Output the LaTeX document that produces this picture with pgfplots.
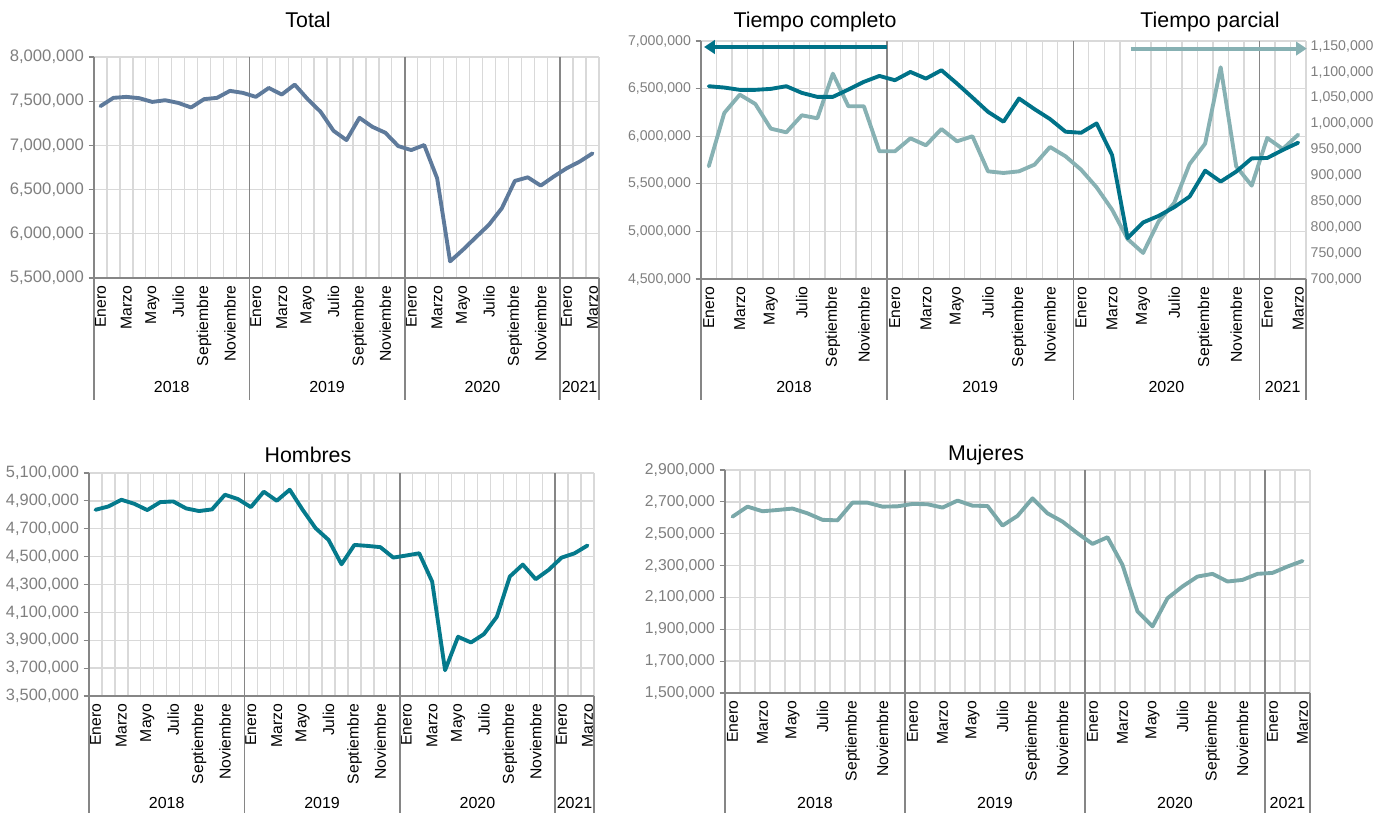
\documentclass[border=0pt]{standalone}
\usepackage{fontspec}
\setmainfont{Liberation Sans}
\usepackage{pgfplots}
\usepackage{pgfplotstable}
\pgfplotsset{compat=1.18}
\usetikzlibrary{arrows.meta}

\definecolor{cTotal}{HTML}{5E7A9B}
\definecolor{cComp}{HTML}{007288}
\definecolor{cParc}{HTML}{87B1B3}
\definecolor{cHom}{HTML}{057A8C}
\definecolor{cMuj}{HTML}{7AA8A9}
\definecolor{gridgray}{HTML}{D9D9D9}
\definecolor{axgray}{HTML}{868686}
\definecolor{labgray}{HTML}{7F7F7F}

% k = mes (0 = enero 2018 ... 38 = marzo 2021)
\pgfplotstableread{
k total hombres mujeres completo parcial
0 7444000 4836000 2607000 6525000 917800
1 7538000 4860000 2670000 6511000 1020900
2 7549000 4908000 2641000 6487000 1056300
3 7534000 4879000 2649000 6487000 1038300
4 7492000 4834000 2658000 6497000 990600
5 7511000 4891000 2628000 6525000 983500
6 7481000 4896000 2587000 6455000 1016400
7 7429000 4846000 2584000 6413000 1010600
8 7523000 4827000 2695000 6413000 1096900
9 7538000 4839000 2695000 6490000 1033800
10 7617000 4944000 2670000 6571000 1033800
11 7594000 4913000 2672000 6633000 946800
12 7549000 4855000 2687000 6588000 946800
13 7650000 4966000 2685000 6675000 971900
14 7575000 4901000 2664000 6605000 958400
15 7688000 4980000 2708000 6693000 989900
16 7523000 4836000 2676000 6553000 966100
17 7380000 4704000 2674000 6406000 975800
18 7165000 4620000 2551000 6256000 908100
19 7060000 4445000 2612000 6152000 904900
20 7312000 4584000 2722000 6396000 908100
21 7210000 4577000 2628000 6284000 921000
22 7143000 4568000 2576000 6180000 955200
23 6992000 4493000 2503000 6047000 937100
24 6947000 4508000 2436000 6036000 911300
25 7004000 4524000 2478000 6134000 877200
26 6628000 4321000 2304000 5802000 834000
27 5688000 3685000 2012000 4929000 777300
28 5820000 3925000 1918000 5094000 750300
29 5962000 3884000 2095000 5163000 811500
30 6102000 3944000 2169000 5254000 846900
31 6290000 4069000 2231000 5366000 922300
32 6598000 4357000 2248000 5638000 961600
33 6639000 4443000 2200000 5523000 1109200
34 6545000 4338000 2210000 5628000 917800
35 6647000 4405000 2248000 5767000 880400
36 6741000 4493000 2254000 5771000 972600
37 6816000 4524000 2294000 5855000 951300
38 6910000 4580000 2329000 5932000 979000
}\datos

\pgfplotsset{
  numeros/.style={
    scaled y ticks=false,
    yticklabel style={text=labgray,
      /pgf/number format/fixed,
      /pgf/number format/precision=0,
      /pgf/number format/1000 sep={,},
      /pgf/number format/assume math mode=true},
  },
  mes/.style={
    scale only axis, clip=false, anchor=north west,
    xmin=-0.5, xmax=38.5,
    xtick={0,2,...,38},
    xticklabels={Enero,Marzo,Mayo,Julio,Septiembre,Noviembre,
                 Enero,Marzo,Mayo,Julio,Septiembre,Noviembre,
                 Enero,Marzo,Mayo,Julio,Septiembre,Noviembre,
                 Enero,Marzo},
    x tick label style={rotate=90, anchor=east, inner sep=1.5pt,
                        font=\fontsize{11.8}{12}\selectfont},
    major x tick style={draw=none},
    minor xtick={0.5,1.5,...,38.5},
    minor x tick style={draw=none},
    xminorgrids=true, ymajorgrids=true,
    minor x grid style={gridgray, line width=1pt},
    major y grid style={gridgray, line width=1pt},
    axis x line*=bottom, axis y line*=left,
    axis line style={axgray, line width=1pt},
    tick align=outside, major tick length=4pt,
    major y tick style={axgray, line width=0.8pt},
    numeros,
  },
  derecho/.style={
    scale only axis, anchor=north west,
    xmin=-0.5, xmax=38.5,
    axis x line=none, axis y line*=right,
    axis line style={draw=none},
    major tick length=0pt,
    numeros,
  },
  serie/.style={line width=2.9pt, line join=round, line cap=round, mark=none},
}

% separadores de años y etiquetas (#1 = bajada, #2 = posicion de los años)
\newcommand{\anios}[2]{%
  \pgfplotsinvokeforeach{0.307692,0.615385,0.923077}{%
    \draw[axgray, line width=1.2pt] (rel axis cs:##1,1) -- ([yshift=-#1]rel axis cs:##1,0);}
  \pgfplotsinvokeforeach{0,1}{%
    \draw[axgray, line width=1pt] (rel axis cs:##1,0) -- ([yshift=-#1]rel axis cs:##1,0);}
  \node[font=\fontsize{12}{14}\selectfont] at ([yshift=-#2]rel axis cs:0.153846,0) {2018};
  \node[font=\fontsize{12}{14}\selectfont] at ([yshift=-#2]rel axis cs:0.461538,0) {2019};
  \node[font=\fontsize{12}{14}\selectfont] at ([yshift=-#2]rel axis cs:0.769231,0) {2020};
  \node[font=\fontsize{12}{14}\selectfont] at ([yshift=-#2]rel axis cs:0.961538,0) {2021};
}

\begin{document}
\begin{tikzpicture}
\useasboundingbox (0,0) rectangle (1042.5pt,-609.75pt);

\tikzset{titulo/.style={font=\fontsize{16}{18}\selectfont}}
\node[titulo] at (231pt,-15pt) {Total};
\node[titulo] at (611.25pt,-16.5pt) {Tiempo completo};
\node[titulo] at (907.5pt,-16.5pt) {Tiempo parcial};
\node[titulo] at (231pt,-341.25pt) {Hombres};
\node[titulo] at (739.5pt,-341.25pt) {Mujeres};

% Total
\begin{axis}[mes, at={(70.5pt,-42.75pt)}, width=378.75pt, height=165.75pt,
    ymin=5500000, ymax=8000000,
    ytick={5500000,6000000,6500000,7000000,7500000,8000000},
    yticklabel style={font=\fontsize{12.5}{13}\selectfont}]
  \anios{91.5pt}{81.75pt}
  \addplot[serie, cTotal] table[x=k, y=total] {\datos};
\end{axis}

% Tiempo completo (eje izquierdo, rejilla)
\begin{axis}[mes, at={(525.75pt,-30.75pt)}, width=453.75pt, height=178.5pt,
    ymin=4500000, ymax=7000000,
    ytick={4500000,5000000,5500000,6000000,6500000,7000000},
    yticklabel style={font=\fontsize{10.6}{12}\selectfont}]
  \anios{90.75pt}{81pt}
  \draw[cComp, line width=2.9pt, -{Triangle[length=8pt,width=10pt]}]
    (axis cs:11.5,6937000) -- (axis cs:-0.3,6937000);
  \draw[cParc, line width=2.9pt, -{Triangle[length=8pt,width=10pt]}]
    (axis cs:27.2,6920000) -- (axis cs:38.55,6920000);
\end{axis}
% Tiempo parcial (eje derecho)
\begin{axis}[derecho, at={(525.75pt,-30.75pt)}, width=453.75pt, height=178.5pt,
    ymin=700000, ymax=1160000,
    ytick={700000,750000,800000,850000,900000,950000,1000000,1050000,1100000,1150000},
    yticklabel style={font=\fontsize{10.6}{12}\selectfont}]
  \addplot[serie, cParc] table[x=k, y=parcial] {\datos};
\end{axis}
\begin{axis}[scale only axis, anchor=north west, hide axis,
    at={(525.75pt,-30.75pt)}, width=453.75pt, height=178.5pt,
    xmin=-0.5, xmax=38.5, ymin=4500000, ymax=7000000]
  \addplot[serie, cComp] table[x=k, y=completo] {\datos};
\end{axis}

% Hombres
\begin{axis}[mes, at={(66.75pt,-354.75pt)}, width=378.75pt, height=167.25pt,
    ymin=3500000, ymax=5100000,
    ytick={3500000,3700000,3900000,4100000,4300000,4500000,4700000,4900000,5100000},
    yticklabel style={font=\fontsize{12.3}{13}\selectfont}]
  \anios{87.75pt}{80.25pt}
  \addplot[serie, cHom] table[x=k, y=hombres] {\datos};
\end{axis}

% Mujeres
\begin{axis}[mes, at={(543.75pt,-352.5pt)}, width=438.75pt, height=167.25pt,
    ymin=1500000, ymax=2900000,
    ytick={1500000,1700000,1900000,2100000,2300000,2500000,2700000,2900000},
    yticklabel style={font=\fontsize{11.8}{12}\selectfont}]
  \anios{90pt}{82.5pt}
  \addplot[serie, cMuj] table[x=k, y=mujeres] {\datos};
\end{axis}
\end{tikzpicture}
\end{document}
